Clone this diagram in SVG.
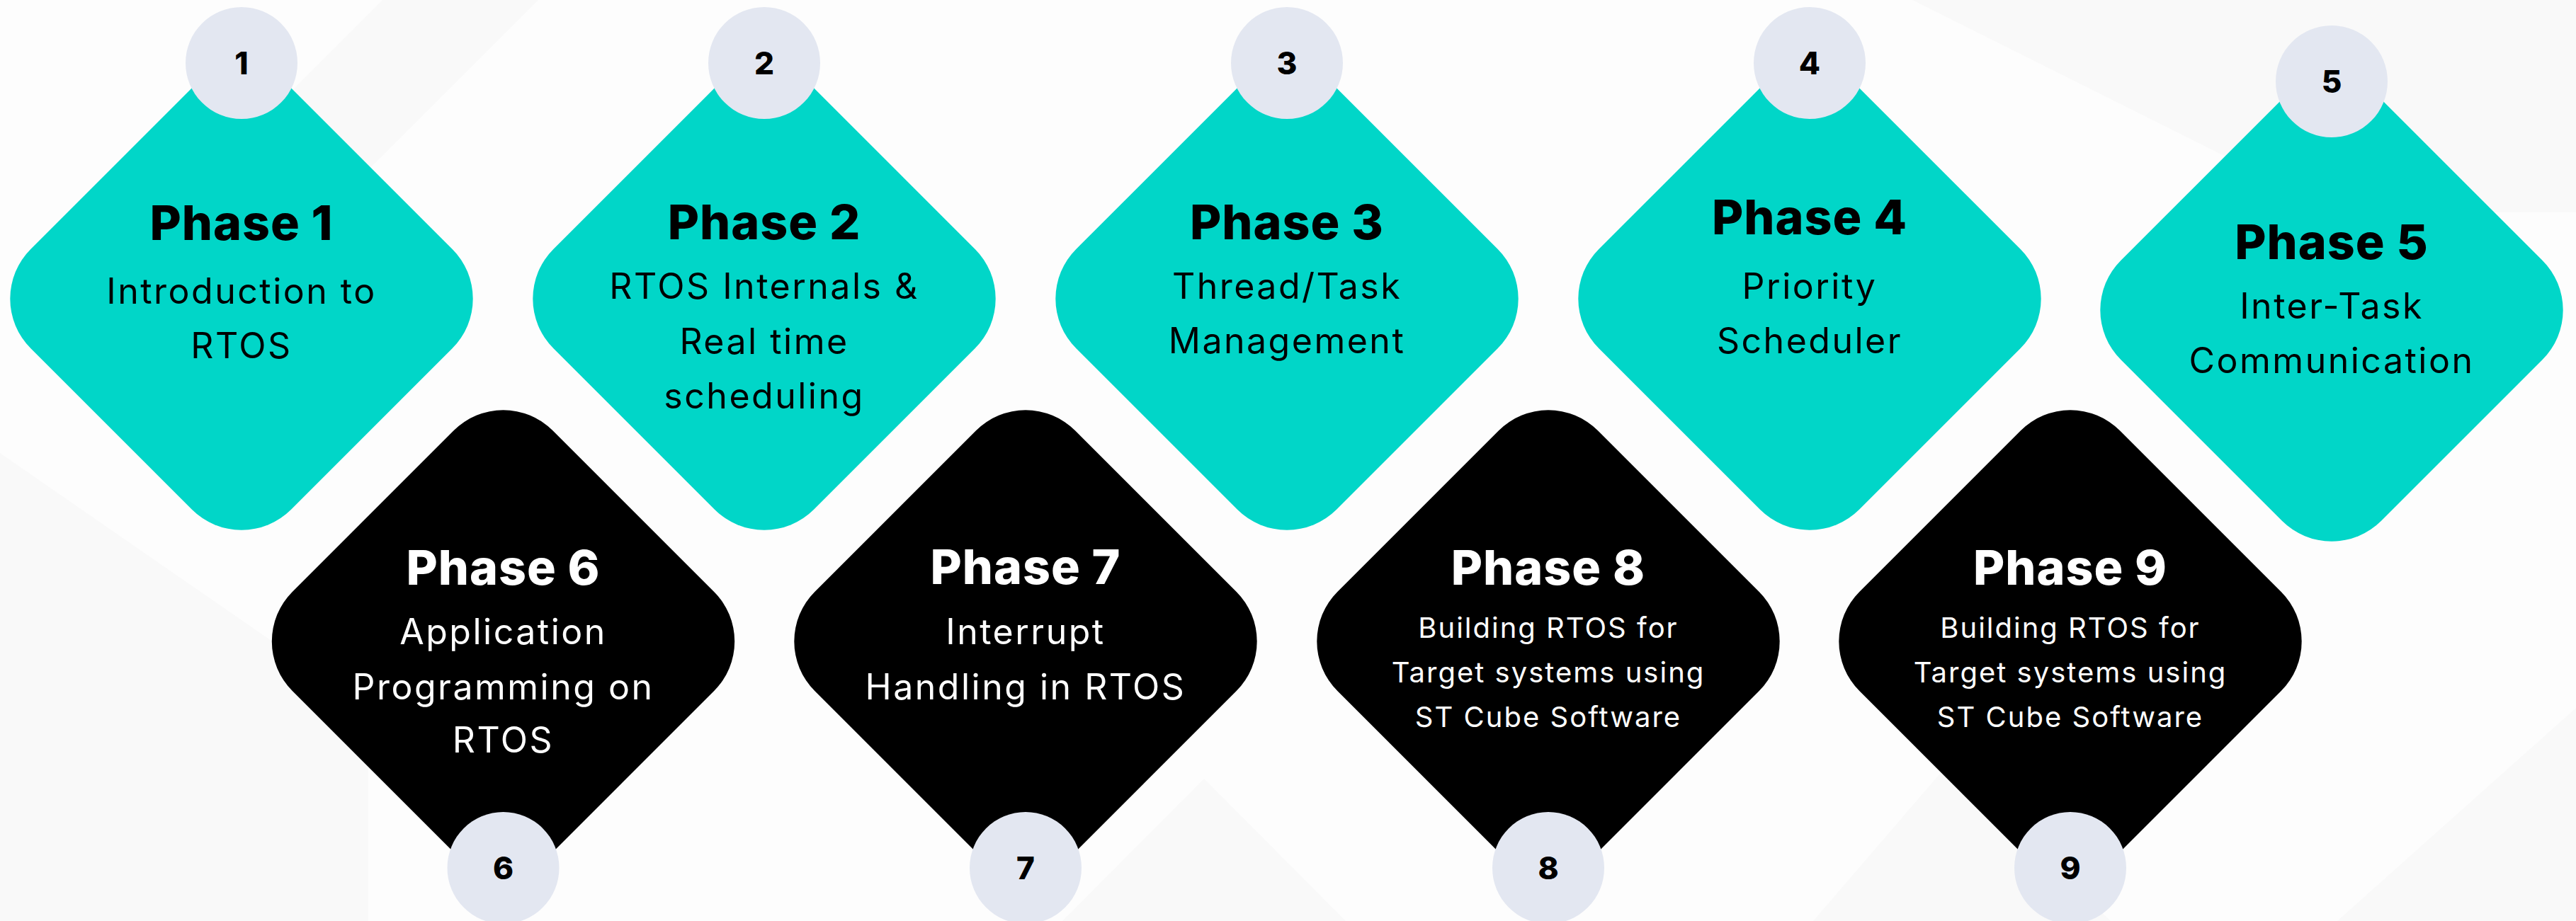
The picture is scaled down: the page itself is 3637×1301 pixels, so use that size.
<svg xmlns="http://www.w3.org/2000/svg" xmlns:xlink="http://www.w3.org/1999/xlink" width="3637" height="1301" viewBox="0 0 3637 1301">
  <style>
    .teal { fill: #01D6C8; }
    .dark { fill: #000000; }
    .badge { fill: #E3E7F1; }
    .bg { fill: #EEEEF0; opacity: 0.25; }
    text { font-family: "Inter", "Noto Sans", "DejaVu Sans", sans-serif; text-anchor: middle; }
    .title { font-size: 68px; font-weight: 800; letter-spacing: 1px; }
    .body { font-size: 50px; font-weight: 400; letter-spacing: 2.5px; }
    .small { font-size: 40px; font-weight: 400; letter-spacing: 2px; }
    .num { font-size: 44px; font-weight: 800; fill: #000000; }
    .onTeal { fill: #000000; }
    .onDark { fill: #FFFFFF; }
  </style>
  <defs>
    <rect id="dia" x="-260" y="-260" width="520" height="520" rx="99" ry="99" transform="rotate(45)"/>
  </defs>

  <rect x="0" y="0" width="3637" height="1301" fill="#FDFDFD"/>
  <g id="background">
    <polygon class="bg" points="540,0 760,0 420,340 200,340"/>
    <polygon class="bg" points="2700,0 3637,0 3637,300 3300,300"/>
    <polygon class="bg" points="0,640 520,1000 520,1301 0,1301"/>
    <polygon class="bg" points="2560,1301 2750,1080 2980,1301"/>
    <polygon class="bg" points="3300,1301 3637,1000 3637,1301"/>
    <polygon class="bg" points="1500,1301 1700,1100 1900,1301"/>
  </g>

  <g id="connectors"></g>

  <g id="node-phase1">
    <use xlink:href="#dia" href="#dia" x="341" y="422" class="teal"/>
    <circle class="badge" cx="341" cy="89" r="79"/>
    <text class="num" x="341" y="105">1</text>
    <text class="title onTeal" x="341" y="339">Phase 1</text>
    <text class="body onTeal" x="341" y="429">Introduction to</text>
    <text class="body onTeal" x="341" y="506">RTOS</text>
  </g>

  <g id="node-phase2">
    <use xlink:href="#dia" href="#dia" x="1079" y="422" class="teal"/>
    <circle class="badge" cx="1079" cy="89" r="79"/>
    <text class="num" x="1079" y="105">2</text>
    <text class="title onTeal" x="1079" y="338">Phase 2</text>
    <text class="body onTeal" x="1079" y="422">RTOS Internals &amp;</text>
    <text class="body onTeal" x="1079" y="500">Real time</text>
    <text class="body onTeal" x="1079" y="577">scheduling</text>
  </g>

  <g id="node-phase3">
    <use xlink:href="#dia" href="#dia" x="1817" y="422" class="teal"/>
    <circle class="badge" cx="1817" cy="89" r="79"/>
    <text class="num" x="1817" y="105">3</text>
    <text class="title onTeal" x="1817" y="338">Phase 3</text>
    <text class="body onTeal" x="1817" y="422">Thread/Task</text>
    <text class="body onTeal" x="1817" y="499">Management</text>
  </g>

  <g id="node-phase4">
    <use xlink:href="#dia" href="#dia" x="2555" y="422" class="teal"/>
    <circle class="badge" cx="2555" cy="89" r="79"/>
    <text class="num" x="2555" y="105">4</text>
    <text class="title onTeal" x="2555" y="331">Phase 4</text>
    <text class="body onTeal" x="2555" y="422">Priority</text>
    <text class="body onTeal" x="2555" y="499">Scheduler</text>
  </g>

  <g id="node-phase5">
    <use xlink:href="#dia" href="#dia" x="3292" y="438" class="teal"/>
    <circle class="badge" cx="3292" cy="115" r="79"/>
    <text class="num" x="3292" y="131">5</text>
    <text class="title onTeal" x="3292" y="366">Phase 5</text>
    <text class="body onTeal" x="3292" y="450">Inter-Task</text>
    <text class="body onTeal" x="3292" y="527">Communication</text>
  </g>

  <g id="node-phase6">
    <use xlink:href="#dia" href="#dia" x="710.5" y="906" class="dark"/>
    <circle class="badge" cx="710.5" cy="1226" r="79"/>
    <text class="num" x="710.5" y="1242">6</text>
    <text class="title onDark" x="710.5" y="826">Phase 6</text>
    <text class="body onDark" x="710.5" y="910">Application</text>
    <text class="body onDark" x="710.5" y="988">Programming on</text>
    <text class="body onDark" x="710.5" y="1063">RTOS</text>
  </g>

  <g id="node-phase7">
    <use xlink:href="#dia" href="#dia" x="1448" y="906" class="dark"/>
    <circle class="badge" cx="1448" cy="1226" r="79"/>
    <text class="num" x="1448" y="1242">7</text>
    <text class="title onDark" x="1448" y="825">Phase 7</text>
    <text class="body onDark" x="1448" y="910">Interrupt</text>
    <text class="body onDark" x="1448" y="988">Handling in RTOS</text>
  </g>

  <g id="node-phase8">
    <use xlink:href="#dia" href="#dia" x="2186" y="906" class="dark"/>
    <circle class="badge" cx="2186" cy="1226" r="79"/>
    <text class="num" x="2186" y="1242">8</text>
    <text class="title onDark" x="2186" y="826">Phase 8</text>
    <text class="small onDark" x="2186" y="901">Building RTOS for</text>
    <text class="small onDark" x="2186" y="964">Target systems using</text>
    <text class="small onDark" x="2186" y="1027">ST Cube Software</text>
  </g>

  <g id="node-phase9">
    <use xlink:href="#dia" href="#dia" x="2923" y="906" class="dark"/>
    <circle class="badge" cx="2923" cy="1226" r="79"/>
    <text class="num" x="2923" y="1242">9</text>
    <text class="title onDark" x="2923" y="826">Phase 9</text>
    <text class="small onDark" x="2923" y="901">Building RTOS for</text>
    <text class="small onDark" x="2923" y="964">Target systems using</text>
    <text class="small onDark" x="2923" y="1027">ST Cube Software</text>
  </g>
</svg>
